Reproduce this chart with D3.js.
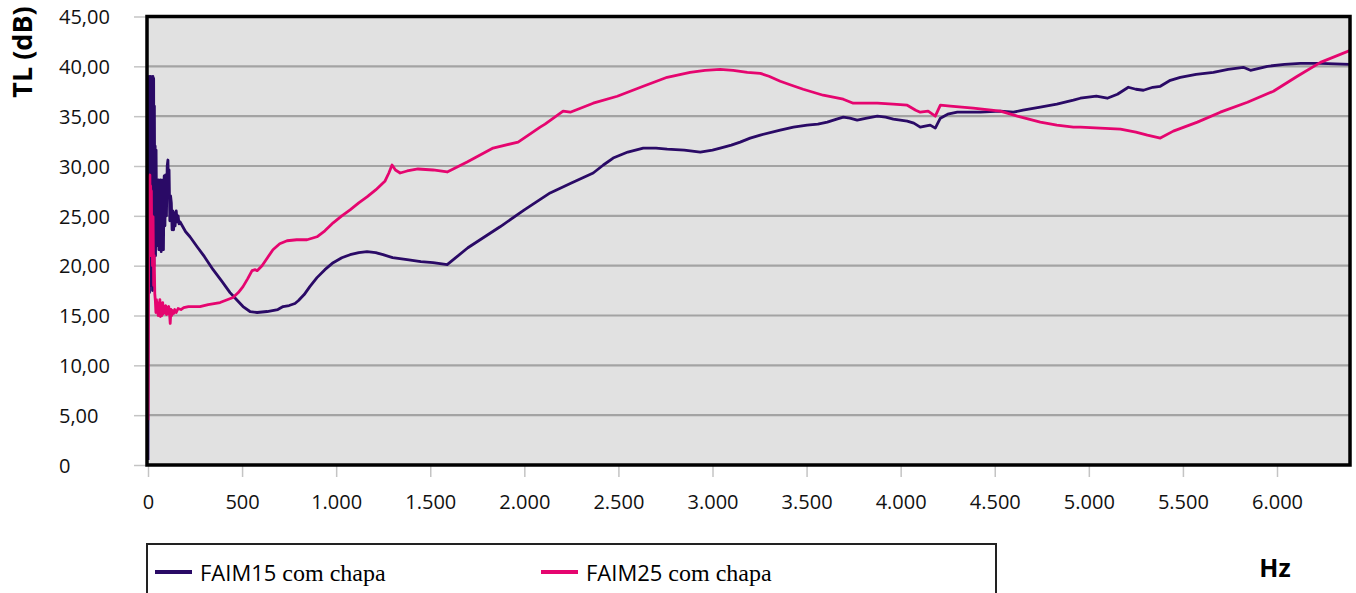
<!DOCTYPE html>
<html><head><meta charset="utf-8">
<script src="https://cdn.jsdelivr.net/npm/d3@7"></script>
<style>
html,body{margin:0;padding:0;background:#fff;}
svg{display:block;}
</style></head>
<body>
<svg id="chart" width="1356" height="593"></svg>
<script>
// ---- data (Hz, TL dB) ----
const seriesNames = ["FAIM15", "FAIM25"];
const legendSuffix = " com chapa";
const yTicks = [0, 5, 10, 15, 20, 25, 30, 35, 40, 45];
const xTicks = [0, 500, 1000, 1500, 2000, 2500, 3000, 3500, 4000, 4500, 5000, 5500, 6000];
const xTitle = "Hz";
const yTitle = "TL (dB)";

const faim15 = [
 [0,0.5],[2,38.8],[4,19],[6,39],[8,17.3],[10,36],[12,22],[14,39],[16,18],[18,38.5],[20,21],[22,37],[24,17.5],[26,39],[28,23],[30,38.8],[32,20],[34,36],[36,25],[38,32],[40,21],[43,31.6],[46,23.3],[49,28.6],[52,22],[55,28.6],[58,21.6],[61,28.4],[64,22.6],[67,28.6],[70,21.4],[73,28],[76,22],[79,28.6],[82,21.6],[86,29],[90,24],[94,29.1],[98,25],[102,30],[106,30.6],[109,27],[112,29.6],[116,24.5],[120,27],[124,26.3],[128,23.6],[132,25.5],[136,23.6],[140,25.3],[144,24],[150,25.5],[155,24.4],[160,25.0],[165,24.2],[170,24.4],
 [185,23.9],[200,23.4],[223,22.9],[261,21.9],[300,20.9],[346,19.6],[390,18.5],[436,17.3],[470,16.6],[505,15.9],[542,15.4],[580,15.3],[633,15.4],[690,15.6],[718,15.9],[750,16.0],[781,16.2],[800,16.5],[830,17.1],[860,17.9],[898,18.8],[940,19.6],[984,20.3],[1030,20.8],[1074,21.1],[1120,21.3],[1164,21.4],[1210,21.3],[1249,21.1],[1300,20.8],[1377,20.6],[1450,20.4],[1515,20.3],[1590,20.1],
 [1700,21.8],[1871,23.9],[2000,25.6],[2137,27.3],[2250,28.3],[2366,29.3],[2420,30.1],[2472,30.8],[2550,31.4],[2632,31.8],[2700,31.8],[2759,31.7],[2850,31.6],[2935,31.4],[3000,31.6],[3041,31.8],[3100,32.1],[3147,32.4],[3200,32.8],[3254,33.1],[3360,33.6],[3430,33.9],[3503,34.1],[3560,34.2],[3610,34.4],[3660,34.7],[3695,34.9],[3730,34.8],[3769,34.6],[3820,34.8],[3876,35.0],[3920,34.9],[3961,34.7],[4035,34.5],[4070,34.3],[4104,33.9],[4130,34.0],[4157,34.1],[4184,33.8],[4200,34.4],[4211,34.8],[4250,35.2],[4301,35.4],[4423,35.4],[4530,35.5],[4599,35.4],[4650,35.6],[4742,35.9],[4830,36.2],[4918,36.6],[4955,36.8],[5040,37.0],[5098,36.8],[5152,37.2],[5210,37.9],[5250,37.7],[5290,37.6],[5340,37.9],[5380,38.0],[5433,38.6],[5486,38.9],[5570,39.2],[5662,39.4],[5740,39.7],[5821,39.9],[5859,39.6],[5949,40.0],[6040,40.2],[6124,40.3],[6231,40.3],[6390,40.2]
];

const faim25 = [
 [0,4.5],[2,14],[4,22],[6,27],[8,29],[10,29.1],[12,21],[14,28],[16,24],[18,27.5],[20,22],[22,25],[24,20],[27,24.9],[30,18],[33,21],[36,17.2],[39,16.5],[42,15.3],[45,16.6],[48,15.6],[51,16.2],[54,15.0],[57,16.3],[60,15.2],[63,16.6],[66,14.9],[70,16.0],[74,15.0],[78,16.3],[82,15.2],[86,15.9],[90,15.3],[94,16.0],[98,15.1],[102,15.8],[106,15.2],[110,15.9],[114,15.4],[118,14.2],[122,15.6],[126,15.0],[130,15.5],[136,15.2],[142,15.6],[150,15.3],[160,15.7],[175,15.6],[190,15.8],[215,15.9],[250,15.9],[276,15.9],[320,16.1],[383,16.3],[452,16.8],[480,17.3],[505,17.9],[530,18.7],[553,19.5],[570,19.6],[580,19.5],[606,20.0],[635,20.8],[664,21.6],[700,22.2],[739,22.5],[790,22.6],[845,22.6],[898,22.9],[940,23.5],[984,24.3],[1030,25.0],[1074,25.6],[1120,26.3],[1164,26.9],[1210,27.6],[1260,28.5],[1280,29.3],[1297,30.1],[1315,29.6],[1340,29.3],[1377,29.5],[1435,29.7],[1515,29.6],[1590,29.4],
 [1696,30.4],[1834,31.8],[1967,32.4],[2084,33.9],[2110,34.2],[2206,35.5],[2244,35.4],[2366,36.3],[2494,37.0],[2632,38.0],[2759,38.9],[2881,39.4],[2960,39.6],[3041,39.7],[3110,39.6],[3185,39.4],[3254,39.3],[3300,39.0],[3360,38.5],[3420,38.1],[3482,37.7],[3588,37.1],[3695,36.7],[3748,36.3],[3876,36.3],[3960,36.2],[4035,36.1],[4080,35.6],[4104,35.4],[4146,35.5],[4184,35.0],[4211,36.1],[4264,36.0],[4386,35.8],[4530,35.5],[4620,35.0],[4742,34.4],[4830,34.1],[4918,33.9],[4955,33.9],[5060,33.8],[5168,33.7],[5250,33.4],[5311,33.1],[5380,32.8],[5449,33.5],[5577,34.4],[5699,35.4],[5843,36.4],[5981,37.5],[6108,39.0],[6231,40.4],[6390,41.6]
];

const seriesData = [faim15, faim25];
const seriesColors = ["#2a0a66", "#e5056f"];

// ---- layout ----
const svg = d3.select("#chart");
const plot = {left: 147, right: 1350, top: 16.5, bottom: 465};

const x = d3.scaleLinear().domain([0, 6000]).range([148, 1277]);
const y = d3.scaleLinear().domain([0, 45]).range([plot.bottom, plot.top]);

// plot background
svg.append("rect")
  .attr("x", plot.left).attr("y", plot.top)
  .attr("width", plot.right - plot.left).attr("height", plot.bottom - plot.top)
  .attr("fill", "#e1e1e1");

// gridlines
svg.append("g").selectAll("line")
  .data(yTicks.filter(d => d > 0 && d < 45))
  .join("line")
  .attr("x1", plot.left).attr("x2", plot.right)
  .attr("y1", d => y(d)).attr("y2", d => y(d))
  .attr("stroke", "#a3a3a3").attr("stroke-width", 2.2);

// axes
const ptLocale = d3.formatLocale({decimal: ",", thousands: ".", grouping: [3], currency: ["", ""]});
const fmtX = ptLocale.format(",");
const fmtY = d => d === 0 ? "0" : ptLocale.format(",.2f")(d);

const yAxis = svg.append("g")
  .attr("transform", `translate(${plot.left},0)`)
  .call(d3.axisLeft(y).tickValues(yTicks).tickFormat(fmtY).tickSize(13).tickPadding(4));
yAxis.select(".domain").remove();
yAxis.selectAll(".tick line").attr("stroke", "#c4c4c4").attr("stroke-width", 1.5);
yAxis.selectAll(".tick text")
  .attr("text-anchor", "start")
  .attr("x", 59 - plot.left)
  .attr("dy", "0.36em")
  .attr("fill", "#111")
  .style("font-family", "'Open Sans', sans-serif")
  .style("font-size", "20px");

const xAxis = svg.append("g")
  .attr("transform", `translate(0,${plot.bottom})`)
  .call(d3.axisBottom(x).tickValues(xTicks).tickFormat(fmtX).tickSize(12).tickPadding(18));
xAxis.select(".domain").remove();
xAxis.selectAll(".tick line").attr("stroke", "#c4c4c4").attr("stroke-width", 1.5);
xAxis.selectAll(".tick text")
  .attr("fill", "#111")
  .style("font-family", "'Open Sans', sans-serif")
  .style("font-size", "20px");

// clip
svg.append("clipPath").attr("id", "clip")
  .append("rect")
  .attr("x", plot.left).attr("y", plot.top)
  .attr("width", plot.right - plot.left).attr("height", plot.bottom - plot.top);

const line = d3.line().x(d => x(d[0])).y(d => y(d[1]));

svg.append("g").attr("clip-path", "url(#clip)")
  .selectAll("path")
  .data(seriesData)
  .join("path")
  .attr("d", line)
  .attr("fill", "none")
  .attr("stroke", (d, i) => seriesColors[i])
  .attr("stroke-width", 2.8)
  .attr("stroke-linejoin", "round");

// plot border
svg.append("rect")
  .attr("x", plot.left).attr("y", plot.top)
  .attr("width", plot.right - plot.left).attr("height", plot.bottom - plot.top)
  .attr("fill", "none").attr("stroke", "#000").attr("stroke-width", 3.5);

// axis titles
svg.append("text")
  .attr("transform", "translate(32,52) rotate(-90)")
  .attr("text-anchor", "middle")
  .style("font-family", "'Open Sans', sans-serif")
  .style("font-weight", "bold")
  .style("font-size", "27px")
  .attr("fill", "#000")
  .text(yTitle);

svg.append("text")
  .attr("x", 1275).attr("y", 577)
  .attr("text-anchor", "middle")
  .style("font-family", "'Open Sans', sans-serif")
  .style("font-weight", "bold")
  .style("font-size", "25px")
  .attr("fill", "#000")
  .text(xTitle);

// legend
svg.append("rect")
  .attr("x", 147).attr("y", 544)
  .attr("width", 849).attr("height", 60)
  .attr("fill", "#fff").attr("stroke", "#222").attr("stroke-width", 2);

const legendX = [155, 541];
const leg = svg.append("g").selectAll("g")
  .data(seriesNames)
  .join("g")
  .attr("transform", (d, i) => `translate(${legendX[i]},572)`);
leg.append("line")
  .attr("x1", 0).attr("x2", 37).attr("y1", 0).attr("y2", 0)
  .attr("stroke", (d, i) => seriesColors[i]).attr("stroke-width", 4);
const lt = leg.append("text")
  .attr("x", 45).attr("y", 9)
  .attr("fill", "#000");
lt.append("tspan")
  .style("font-family", "'Open Sans', sans-serif")
  .style("font-size", "22px")
  .text(d => d);
lt.append("tspan")
  .style("font-family", "'Liberation Serif', serif")
  .style("font-size", "24px")
  .text(legendSuffix);
</script>
</body></html>
